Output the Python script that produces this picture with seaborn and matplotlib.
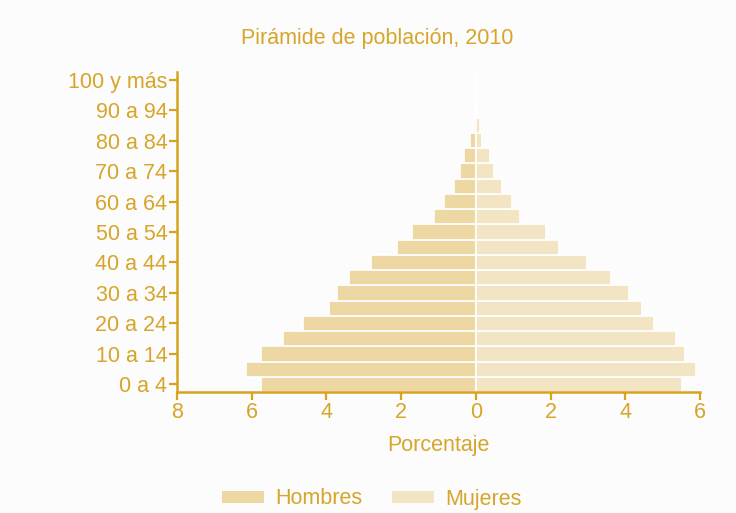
import numpy as np
import pandas as pd
import matplotlib
matplotlib.use("Agg")
import matplotlib.pyplot as plt
import seaborn as sns
from matplotlib.patches import Patch


TITLE = "Pirámide de población, 2010"
X_LABEL = "Porcentaje"

# 21 age groups, bottom (0 a 4) to top (100 y más)
AGE_GROUPS = [
    "0 a 4", "5 a 9", "10 a 14", "15 a 19", "20 a 24", "25 a 29", "30 a 34",
    "35 a 39", "40 a 44", "45 a 49", "50 a 54", "55 a 59", "60 a 64",
    "65 a 69", "70 a 74", "75 a 79", "80 a 84", "85 a 89", "90 a 94",
    "95 a 99", "100 y más",
]

# percentages
HOMBRES = [5.74, 6.15, 5.74, 5.15, 4.62, 3.92, 3.71, 3.39, 2.80, 2.12, 1.70,
           1.12, 0.86, 0.59, 0.43, 0.32, 0.16, 0.06, 0.02, 0.0, 0.0]
MUJERES = [5.52, 5.90, 5.59, 5.36, 4.78, 4.46, 4.10, 3.61, 2.98, 2.23, 1.87,
           1.17, 0.96, 0.70, 0.48, 0.37, 0.16, 0.11, 0.03, 0.01, 0.0]

X_TICKS = [-8, -6, -4, -2, 0, 2, 4, 6]

GOLD = "#D9A21E"
TEXT = "#D6A52A"
BG = "#FCFCFC"
COLORS = {"Hombres": "#EDD8A4", "Mujeres": "#F3E4C3"}
FS = 15.5


def build_frame():
    idx = np.arange(len(AGE_GROUPS))
    men = pd.DataFrame({"idx": idx, "pct": -np.array(HOMBRES), "sexo": "Hombres"})
    women = pd.DataFrame({"idx": idx, "pct": np.array(MUJERES), "sexo": "Mujeres"})
    return pd.concat([men, women], ignore_index=True)


def main():
    sns.set_theme(style="white")
    plt.rcParams["font.family"] = ["Liberation Sans", "DejaVu Sans"]

    df = build_frame()

    fig = plt.figure(figsize=(7.36, 5.13), dpi=100, facecolor=BG)
    ax = fig.add_axes([0.2405, 0.2359, 0.951 - 0.2405, 0.8596 - 0.2359])
    ax.set_facecolor(BG)

    sns.barplot(
        data=df, x="pct", y="idx", hue="sexo", orient="h",
        native_scale=True, dodge=False, width=1.0, saturation=1,
        palette=COLORS, edgecolor="white", linewidth=1.2,
        legend=False, ax=ax,
    )

    ax.set_xlim(-8, 6)
    ax.set_ylim(-0.5, 20.5)

    ax.set_xticks(X_TICKS)
    ax.set_xticklabels([str(abs(t)) for t in X_TICKS])
    ax.set_yticks(range(0, len(AGE_GROUPS), 2))
    ax.set_yticklabels(AGE_GROUPS[::2])

    for side in ["top", "right"]:
        ax.spines[side].set_visible(False)
    for side in ["left", "bottom"]:
        ax.spines[side].set_color(GOLD)
        ax.spines[side].set_linewidth(1.8)

    ax.tick_params(axis="both", colors=GOLD, labelcolor=TEXT, labelsize=FS,
                   length=6, width=1.6, direction="out", pad=1)
    ax.tick_params(axis="x", pad=1)
    ax.tick_params(left=True, bottom=True)

    ax.set_xlabel(X_LABEL, color=TEXT, fontsize=FS, labelpad=9)
    ax.set_ylabel("")

    fig.text(0.512, 1 - 39 / 513, TITLE, ha="center", va="center",
             color=TEXT, fontsize=FS)

    handles = [Patch(facecolor=COLORS[k], edgecolor="none", label=k) for k in COLORS]
    fig.legend(handles=handles, loc="center", bbox_to_anchor=(0.505, 1 - 499 / 513),
               ncol=2, frameon=False, fontsize=FS, labelcolor=TEXT,
               handlelength=1.95, handleheight=0.45, columnspacing=1.4,
               handletextpad=0.5)

    fig.savefig("out.png", dpi=100, facecolor=BG)
    plt.close(fig)


if __name__ == "__main__":
    main()
